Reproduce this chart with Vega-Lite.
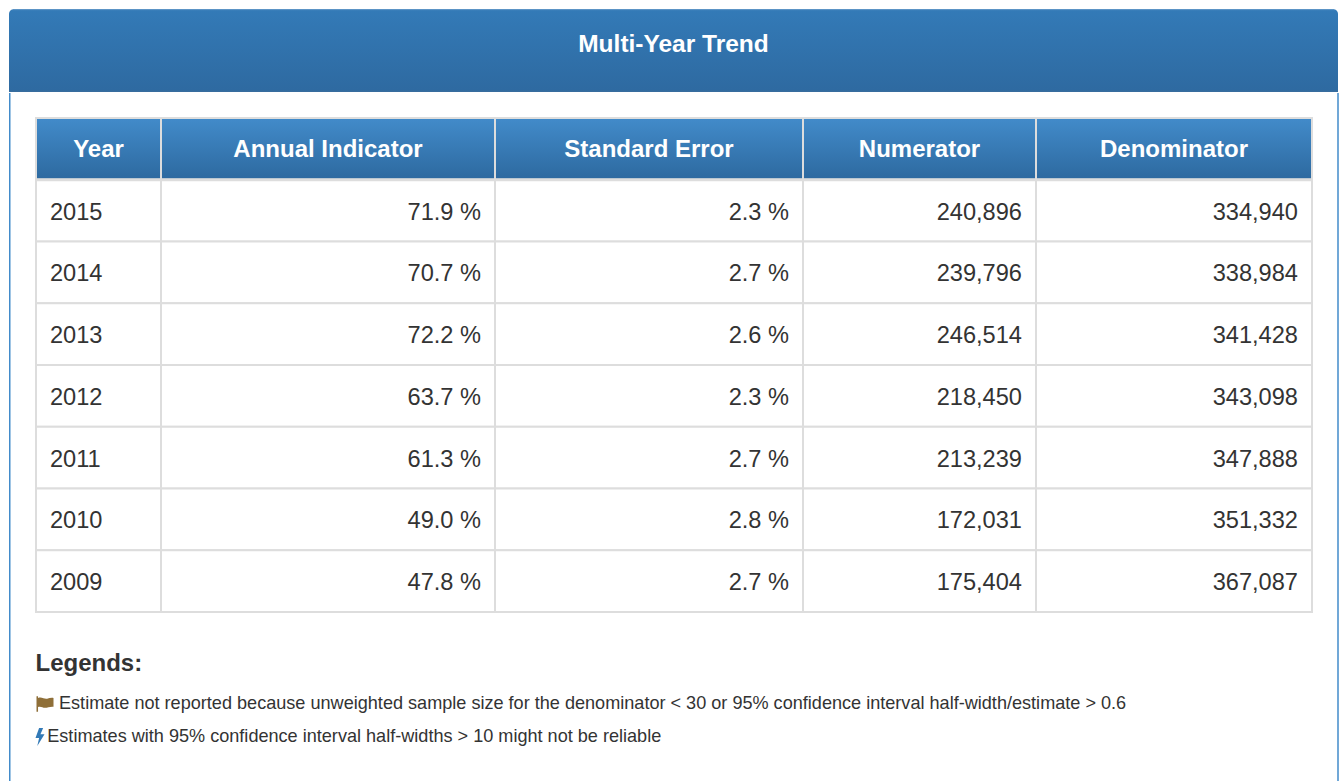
{
"$schema":"https://vega.github.io/schema/vega-lite/v6.json",
"padding":{"left":9,"top":9,"right":0,"bottom":0},
"background":"white",
"config":{"view":{"stroke":null},"concat":{"spacing":0},"font":"Liberation Sans"},
"datasets":{
"cells":[
{"row":"Header","col":"Year","text":"Year"},{"row":"Header","col":"Annual Indicator","text":"Annual Indicator"},{"row":"Header","col":"Standard Error","text":"Standard Error"},{"row":"Header","col":"Numerator","text":"Numerator"},{"row":"Header","col":"Denominator","text":"Denominator"},
{"row":"2015","col":"Year","text":"2015"},{"row":"2015","col":"Annual Indicator","text":"71.9 %"},{"row":"2015","col":"Standard Error","text":"2.3 %"},{"row":"2015","col":"Numerator","text":"240,896"},{"row":"2015","col":"Denominator","text":"334,940"},
{"row":"2014","col":"Year","text":"2014"},{"row":"2014","col":"Annual Indicator","text":"70.7 %"},{"row":"2014","col":"Standard Error","text":"2.7 %"},{"row":"2014","col":"Numerator","text":"239,796"},{"row":"2014","col":"Denominator","text":"338,984"},
{"row":"2013","col":"Year","text":"2013"},{"row":"2013","col":"Annual Indicator","text":"72.2 %"},{"row":"2013","col":"Standard Error","text":"2.6 %"},{"row":"2013","col":"Numerator","text":"246,514"},{"row":"2013","col":"Denominator","text":"341,428"},
{"row":"2012","col":"Year","text":"2012"},{"row":"2012","col":"Annual Indicator","text":"63.7 %"},{"row":"2012","col":"Standard Error","text":"2.3 %"},{"row":"2012","col":"Numerator","text":"218,450"},{"row":"2012","col":"Denominator","text":"343,098"},
{"row":"2011","col":"Year","text":"2011"},{"row":"2011","col":"Annual Indicator","text":"61.3 %"},{"row":"2011","col":"Standard Error","text":"2.7 %"},{"row":"2011","col":"Numerator","text":"213,239"},{"row":"2011","col":"Denominator","text":"347,888"},
{"row":"2010","col":"Year","text":"2010"},{"row":"2010","col":"Annual Indicator","text":"49.0 %"},{"row":"2010","col":"Standard Error","text":"2.8 %"},{"row":"2010","col":"Numerator","text":"172,031"},{"row":"2010","col":"Denominator","text":"351,332"},
{"row":"2009","col":"Year","text":"2009"},{"row":"2009","col":"Annual Indicator","text":"47.8 %"},{"row":"2009","col":"Standard Error","text":"2.7 %"},{"row":"2009","col":"Numerator","text":"175,404"},{"row":"2009","col":"Denominator","text":"367,087"}
],
"legend":[
{"item":"heading","text":"Legends:"},
{"item":"flag","text":"Estimate not reported because unweighted sample size for the denominator < 30 or 95% confidence interval half-width/estimate > 0.6"},
{"item":"bolt","text":"Estimates with 95% confidence interval half-widths > 10 might not be reliable"}
],
"title":[{"text":"Multi-Year Trend"}],
"one":[{"a":1}]
},
"vconcat":[
{"width":1329,"height":83,"data":{"name":"title"},"layer":[
{"mark":{"type":"rect","cornerRadiusTopLeft":5,"cornerRadiusTopRight":5,"color":{"gradient":"linear","x1":0,"y1":0,"x2":0,"y2":1,"stops":[{"offset":0,"color":"#6d9fcc"},{"offset":0.02,"color":"#337ab7"},{"offset":0.97,"color":"#2e6aa1"},{"offset":1,"color":"#3a6d9d"}]}},"encoding":{}},
{"mark":{"type":"text","fontSize":24.5,"fontWeight":"bold","color":"white","baseline":"middle","dy":-5.5},"encoding":{"text":{"field":"text"}}}
]},
{"spacing":0,"hconcat":[
{"width":25,"height":689,"data":{"name":"one"},"mark":{"type":"rule","color":"#428bca","strokeWidth":1.5},"encoding":{"x":{"value":0.75}}},
{"spacing":0,"vconcat":[
{"width":1276,"height":24,"data":{"name":"one"},"mark":{"type":"rule","opacity":0},"encoding":{"x":{"value":0}}},
{"bounds":"flush","spacing":0,"hconcat":[
{"width":125,"height":494,"data":{"name":"cells"},"transform":[{"filter":"datum.col==='Year'"}],"encoding":{"y":{"field":"row","type":"nominal","axis":null,"scale":{"domain":["Header","2015","2014","2013","2012","2011","2010","2009"]},"sort":null}},"layer":[
{"transform":[{"filter":"datum.row!=='Header'"}],"mark":{"type":"rect","fill":"white","stroke":"#dddddd","strokeWidth":2}},
{"transform":[{"filter":"datum.row==='Header'"}],"mark":{"type":"rect","stroke":"#dddddd","strokeWidth":2,"fill":{"gradient":"linear","x1":0,"y1":0,"x2":0,"y2":1,"stops":[{"offset":0,"color":"#428bca"},{"offset":1,"color":"#2d699f"}]}}},
{"transform":[{"filter":"datum.row==='Header'"}],"mark":{"type":"rule","color":"#dddddd","strokeWidth":3},"encoding":{"y":{"field":"row","type":"nominal","bandPosition":1,"axis":null,"scale":{"domain":["Header","2015","2014","2013","2012","2011","2010","2009"]},"sort":null}}},
{"transform":[{"filter":"datum.row==='Header'"}],"mark":{"type":"text","fontSize":24,"fontWeight":"bold","color":"white","dy":1.5},"encoding":{"text":{"field":"text"}}},
{"transform":[{"filter":"datum.row!=='Header'"}],"mark":{"type":"text","fontSize":23.6,"color":"#333333","align":"left","dx":14,"dy":2},"encoding":{"text":{"field":"text"},"x":{"value":0}}}
]},
{"width":334,"height":494,"data":{"name":"cells"},"transform":[{"filter":"datum.col==='Annual Indicator'"}],"encoding":{"y":{"field":"row","type":"nominal","axis":null,"scale":{"domain":["Header","2015","2014","2013","2012","2011","2010","2009"]},"sort":null}},"layer":[
{"transform":[{"filter":"datum.row!=='Header'"}],"mark":{"type":"rect","fill":"white","stroke":"#dddddd","strokeWidth":2}},
{"transform":[{"filter":"datum.row==='Header'"}],"mark":{"type":"rect","stroke":"#dddddd","strokeWidth":2,"fill":{"gradient":"linear","x1":0,"y1":0,"x2":0,"y2":1,"stops":[{"offset":0,"color":"#428bca"},{"offset":1,"color":"#2d699f"}]}}},
{"transform":[{"filter":"datum.row==='Header'"}],"mark":{"type":"rule","color":"#dddddd","strokeWidth":3},"encoding":{"y":{"field":"row","type":"nominal","bandPosition":1,"axis":null,"scale":{"domain":["Header","2015","2014","2013","2012","2011","2010","2009"]},"sort":null}}},
{"transform":[{"filter":"datum.row==='Header'"}],"mark":{"type":"text","fontSize":24,"fontWeight":"bold","color":"white","dy":1.5},"encoding":{"text":{"field":"text"}}},
{"transform":[{"filter":"datum.row!=='Header'"}],"mark":{"type":"text","fontSize":23.6,"color":"#333333","align":"right","dx":-14,"dy":2},"encoding":{"text":{"field":"text"},"x":{"value":"width"}}}
]},
{"width":308,"height":494,"data":{"name":"cells"},"transform":[{"filter":"datum.col==='Standard Error'"}],"encoding":{"y":{"field":"row","type":"nominal","axis":null,"scale":{"domain":["Header","2015","2014","2013","2012","2011","2010","2009"]},"sort":null}},"layer":[
{"transform":[{"filter":"datum.row!=='Header'"}],"mark":{"type":"rect","fill":"white","stroke":"#dddddd","strokeWidth":2}},
{"transform":[{"filter":"datum.row==='Header'"}],"mark":{"type":"rect","stroke":"#dddddd","strokeWidth":2,"fill":{"gradient":"linear","x1":0,"y1":0,"x2":0,"y2":1,"stops":[{"offset":0,"color":"#428bca"},{"offset":1,"color":"#2d699f"}]}}},
{"transform":[{"filter":"datum.row==='Header'"}],"mark":{"type":"rule","color":"#dddddd","strokeWidth":3},"encoding":{"y":{"field":"row","type":"nominal","bandPosition":1,"axis":null,"scale":{"domain":["Header","2015","2014","2013","2012","2011","2010","2009"]},"sort":null}}},
{"transform":[{"filter":"datum.row==='Header'"}],"mark":{"type":"text","fontSize":24,"fontWeight":"bold","color":"white","dy":1.5},"encoding":{"text":{"field":"text"}}},
{"transform":[{"filter":"datum.row!=='Header'"}],"mark":{"type":"text","fontSize":23.6,"color":"#333333","align":"right","dx":-14,"dy":2},"encoding":{"text":{"field":"text"},"x":{"value":"width"}}}
]},
{"width":233,"height":494,"data":{"name":"cells"},"transform":[{"filter":"datum.col==='Numerator'"}],"encoding":{"y":{"field":"row","type":"nominal","axis":null,"scale":{"domain":["Header","2015","2014","2013","2012","2011","2010","2009"]},"sort":null}},"layer":[
{"transform":[{"filter":"datum.row!=='Header'"}],"mark":{"type":"rect","fill":"white","stroke":"#dddddd","strokeWidth":2}},
{"transform":[{"filter":"datum.row==='Header'"}],"mark":{"type":"rect","stroke":"#dddddd","strokeWidth":2,"fill":{"gradient":"linear","x1":0,"y1":0,"x2":0,"y2":1,"stops":[{"offset":0,"color":"#428bca"},{"offset":1,"color":"#2d699f"}]}}},
{"transform":[{"filter":"datum.row==='Header'"}],"mark":{"type":"rule","color":"#dddddd","strokeWidth":3},"encoding":{"y":{"field":"row","type":"nominal","bandPosition":1,"axis":null,"scale":{"domain":["Header","2015","2014","2013","2012","2011","2010","2009"]},"sort":null}}},
{"transform":[{"filter":"datum.row==='Header'"}],"mark":{"type":"text","fontSize":24,"fontWeight":"bold","color":"white","dy":1.5},"encoding":{"text":{"field":"text"}}},
{"transform":[{"filter":"datum.row!=='Header'"}],"mark":{"type":"text","fontSize":23.6,"color":"#333333","align":"right","dx":-14,"dy":2},"encoding":{"text":{"field":"text"},"x":{"value":"width"}}}
]},
{"width":276,"height":494,"data":{"name":"cells"},"transform":[{"filter":"datum.col==='Denominator'"}],"encoding":{"y":{"field":"row","type":"nominal","axis":null,"scale":{"domain":["Header","2015","2014","2013","2012","2011","2010","2009"]},"sort":null}},"layer":[
{"transform":[{"filter":"datum.row!=='Header'"}],"mark":{"type":"rect","fill":"white","stroke":"#dddddd","strokeWidth":2}},
{"transform":[{"filter":"datum.row==='Header'"}],"mark":{"type":"rect","stroke":"#dddddd","strokeWidth":2,"fill":{"gradient":"linear","x1":0,"y1":0,"x2":0,"y2":1,"stops":[{"offset":0,"color":"#428bca"},{"offset":1,"color":"#2d699f"}]}}},
{"transform":[{"filter":"datum.row==='Header'"}],"mark":{"type":"rule","color":"#dddddd","strokeWidth":3},"encoding":{"y":{"field":"row","type":"nominal","bandPosition":1,"axis":null,"scale":{"domain":["Header","2015","2014","2013","2012","2011","2010","2009"]},"sort":null}}},
{"transform":[{"filter":"datum.row==='Header'"}],"mark":{"type":"text","fontSize":24,"fontWeight":"bold","color":"white","dy":1.5},"encoding":{"text":{"field":"text"}}},
{"transform":[{"filter":"datum.row!=='Header'"}],"mark":{"type":"text","fontSize":23.6,"color":"#333333","align":"right","dx":-14,"dy":2},"encoding":{"text":{"field":"text"},"x":{"value":"width"}}}
]}
]},
{"width":1276,"height":169,"data":{"name":"legend"},"encoding":{"y":{"field":"item","type":"nominal","axis":null,"sort":null,"scale":{"type":"point","padding":0,"domain":["heading","flag","bolt"],"range":[58,124]}}},"layer":[
{"transform":[{"filter":"datum.item==='heading'"}],"mark":{"type":"text","fontSize":24,"fontWeight":"bold","color":"#333333","align":"left","dy":-7},"encoding":{"text":{"field":"text"},"x":{"field":"item","type":"nominal","axis":null,"scale":{"type":"point","padding":0,"domain":["heading","bolt","flag"],"range":[-0.5,23]}}}},
{"transform":[{"filter":"datum.item!=='heading'"}],"mark":{"type":"text","fontSize":18.1,"color":"#333333","align":"left"},"encoding":{"text":{"field":"text"},"x":{"field":"item","type":"nominal","axis":null,"scale":{"type":"point","padding":0,"domain":["heading","bolt","flag"],"range":[-0.5,23]}}}},
{"transform":[{"filter":"datum.item==='flag'"}],"mark":{"type":"point","filled":true,"opacity":1,"color":"#8f6f38","size":289,"shape":"M-1 -0.9 L-0.82 -0.9 L-0.82 -0.7 C-0.4 -0.9 0 -0.5 0.25 -0.63 C0.5 -0.72 0.8 -0.77 1 -0.72 L1 0.32 C0.6 0.27 0.3 0.45 0 0.45 C-0.3 0.45 -0.5 0.22 -0.82 0.36 L-0.82 0.9 L-1 0.9 Z"},"encoding":{"x":{"value":9}}},
{"transform":[{"filter":"datum.item==='bolt'"}],"mark":{"type":"point","filled":true,"opacity":1,"color":"#337ab7","size":324,"shape":"M-0.1 -1 L0.35 -1 L0.05 -0.3 L0.5 -0.3 L-0.3 1 L-0.1 0.1 L-0.5 0.1 Z"},"encoding":{"x":{"value":4}}}
]}
]},
{"width":24,"height":689,"data":{"name":"one"},"mark":{"type":"rule","color":"#428bca","strokeWidth":1.5},"encoding":{"x":{"value":"width"}}}
]}
]
}
